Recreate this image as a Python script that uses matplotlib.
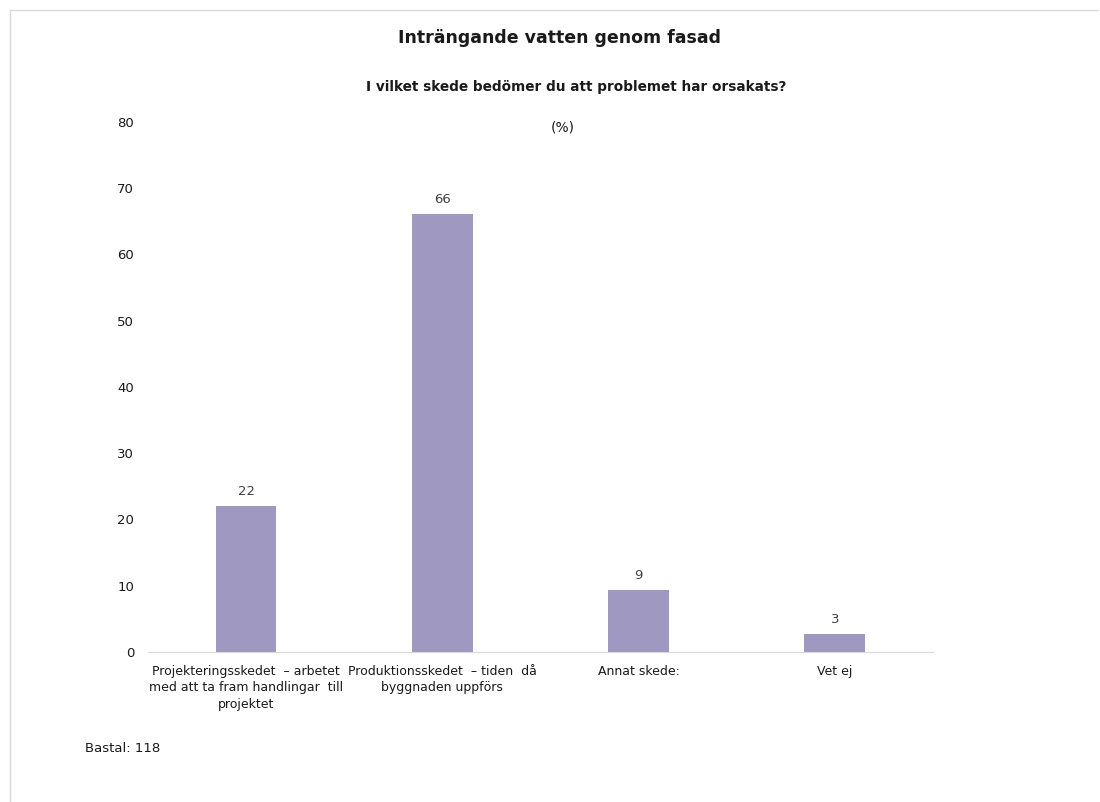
import matplotlib.pyplot as plt
from matplotlib.lines import Line2D

categories = [
    "Projekteringsskedet  – arbetet\nmed att ta fram handlingar  till\nprojektet",
    "Produktionsskedet  – tiden  då\nbyggnaden uppförs",
    "Annat skede:",
    "Vet ej",
]
values = [22.0, 66.1, 9.3, 2.7]
yticks = [0, 10, 20, 30, 40, 50, 60, 70, 80]

title = "Inträngande vatten genom fasad"
subtitle = "I vilket skede bedömer du att problemet har orsakats?"
unit = "(%)"
base = "Bastal: 118"

bar_color = "#9f98c0"

fig = plt.figure(figsize=(11, 8.02), dpi=100)
ax = fig.add_axes([0.1345, 0.187, 0.7136, 0.661])

x = range(len(categories))
bars = ax.bar(x, values, width=0.31, color=bar_color)
for b, v in zip(bars, values):
    ax.text(b.get_x() + b.get_width() / 2, v + 1.2, f"{v:.0f}",
            ha="center", va="bottom", fontsize=9.5, color="#404040")

ax.set_xlim(-0.5, len(categories) - 0.5)
ax.set_ylim(0, 80)
ax.set_yticks(yticks)
ax.set_xticks(list(x))
ax.set_xticklabels(categories, fontsize=9, color="#1a1a1a", linespacing=1.35)
ax.tick_params(axis="y", length=0, pad=10, labelsize=9.5, labelcolor="#1a1a1a")
ax.tick_params(axis="x", length=0, pad=9)
for s in ["top", "right", "left"]:
    ax.spines[s].set_visible(False)
ax.spines["bottom"].set_color("#d9d9d9")

fig.text(0.509, 0.953, title, ha="center", va="center",
         fontsize=12.5, fontweight="bold", color="#1a1a1a")
fig.text(0.524, 0.892, subtitle, ha="center", va="center",
         fontsize=9.8, fontweight="bold", color="#1a1a1a")
fig.text(0.512, 0.841, unit, ha="center", va="center",
         fontsize=10, color="#1a1a1a")
fig.text(0.077, 0.067, base, ha="left", va="center",
         fontsize=9.5, color="#1a1a1a")

# light frame at the top and left
fig.add_artist(Line2D([0.009, 0.998], [0.987, 0.987], color="#d9d9d9", lw=1))
fig.add_artist(Line2D([0.009, 0.009], [0.0, 0.987], color="#d9d9d9", lw=1))

fig.savefig("out.png", dpi=100)
